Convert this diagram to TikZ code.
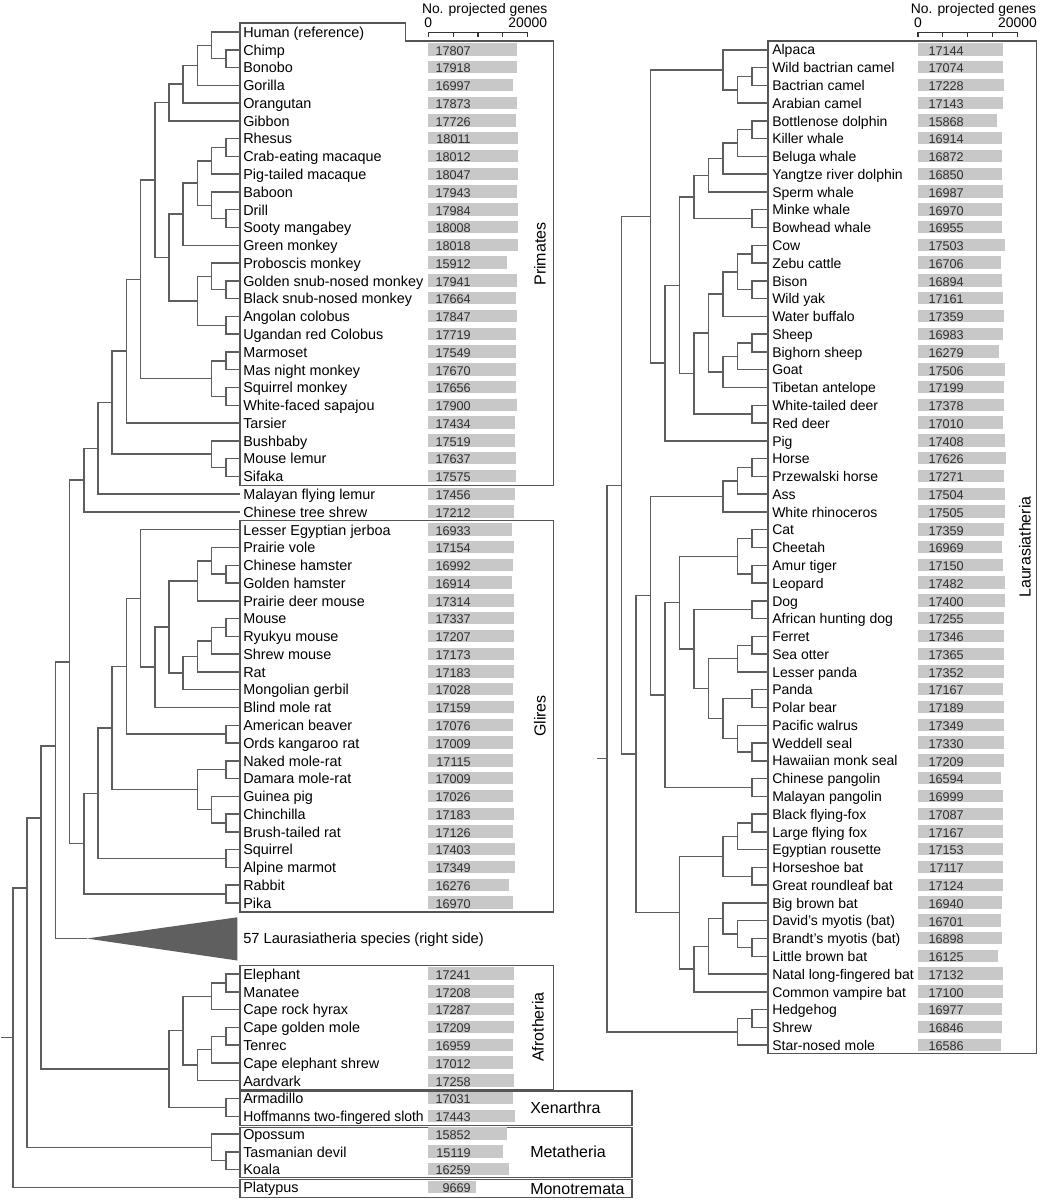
\documentclass[tikz,border=0pt]{standalone}
\usepackage{fontspec}
\setmainfont{Liberation Sans}
\usetikzlibrary{calc}
\definecolor{bargray}{HTML}{C8C8C8}
\definecolor{numgray}{HTML}{303030}
\definecolor{linegray}{HTML}{5E5E5E}
\definecolor{boxgray}{HTML}{555555}
\definecolor{trigray}{HTML}{5F5F5F}
\newcommand{\treeL}[4]{\path let \p1=(#3), \p2=(#4) in ({(240-14.2*#2)*0.75pt},{0.5*\y1+0.5*\y2}) coordinate (#1);\draw[branch] (#3) -| (#1) |- (#4);}
\newcommand{\treeLy}[5]{\coordinate (#1) at ({240-14.2*#2},#5);\draw[branch] (#3) -| (#1) |- (#4);}
\newcommand{\treeR}[4]{\path let \p1=(#3), \p2=(#4) in ({(766.7-14.5*#2)*0.75pt},{0.5*\y1+0.5*\y2}) coordinate (#1);\draw[branch] (#3) -| (#1) |- (#4);}
\newcommand{\hofname}{\scalebox{0.965}[1]{Hoffmanns two-fingered sloth}}
\begin{document}
\begin{tikzpicture}[x=0.75pt,y=-0.75pt,
 nm/.style={anchor=base west, inner sep=0pt, font=\fontsize{10.8}{12.5}\selectfont},
 nmr/.style={anchor=base west, inner sep=0pt, font=\fontsize{10.5}{12.5}\selectfont},
 num/.style={anchor=base east, inner sep=0pt, text=numgray, font=\fontsize{9.5}{11}\selectfont},
 bar/.style={fill=bargray},
 branch/.style={draw=linegray, line width=1.1pt},
 box/.style={draw=boxgray, line width=1pt},
 grp/.style={inner sep=0pt, font=\fontsize{12}{14}\selectfont},
 axl/.style={inner sep=0pt, anchor=base, font=\fontsize{10.4}{12}\selectfont},
 axisline/.style={draw=black!80, line width=0.8pt}]
\useasboundingbox (0,0) rectangle (1041,1200);
\fill[white] (0,0) rectangle (1041,1200);

% ---------- boxes ----------
\draw[box] (240,23.1) -- (405.7,23.1) -- (405.7,40.9) -- (553.3,40.9) -- (553.3,485.3) -- (240,485.3) -- cycle;
\draw[box] (240,520.8) rectangle (553.3,912);
\draw[box] (240,965.2) rectangle (553.3,1089.2);
\draw[box] (240,1091) rectangle (632,1125.3);
\draw[box] (240,1127.2) rectangle (632,1177.5);
\draw[box] (240,1179.5) rectangle (632,1197.3);
\draw[box] (768,40.9) rectangle (1036.5,1053.5);

% ---------- axes ----------
\draw[axisline] (428.3,37) -- (428.3,32.3) -- (527.7,32.3) -- (527.7,37);
\foreach \k in {1,2,3} \draw[axisline] ({428.3+24.85*\k},32.3) -- ({428.3+24.85*\k},37);
\node[axl] (axLt) at (484.7,13.3) {No. projected genes};
\node[axl] (axL0) at (428.3,27.3) {0};
\node[axl] (axL2) at (527.7,27.3) {20000};
\draw[axisline] (918,37) -- (918,32.3) -- (1017.5,32.3) -- (1017.5,37);
\foreach \k in {1,2,3} \draw[axisline] ({918+24.875*\k},32.3) -- ({918+24.875*\k},37);
\node[axl] (axRt) at (973.5,13.3) {No. projected genes};
\node[axl] (axR0) at (918,27.3) {0};
\node[axl] (axR2) at (1017.5,27.3) {20000};

% ---------- left leaves ----------
\coordinate (a0) at (240,32);
\node[nm] (na0) at (243,37.3) {Human (reference)};
\foreach \ii/\lname/\lval in {1/Chimp/17807,2/Bonobo/17918,3/Gorilla/16997,4/Orangutan/17873,5/Gibbon/17726,6/Rhesus/18011,7/Crab-eating macaque/18012,8/Pig-tailed macaque/18047,9/Baboon/17943,10/Drill/17984,11/Sooty mangabey/18008,12/Green monkey/18018,13/Proboscis monkey/15912,14/Golden snub-nosed monkey/17941,15/Black snub-nosed monkey/17664,16/Angolan colobus/17847,17/Ugandan red Colobus/17719,18/Marmoset/17549,19/Mas night monkey/17670,20/Squirrel monkey/17656,21/White-faced sapajou/17900,22/Tarsier/17434,23/Bushbaby/17519,24/Mouse lemur/17637,25/Sifaka/17575,26/Malayan flying lemur/17456,27/Chinese tree shrew/17212,28/Lesser Egyptian jerboa/16933,29/Prairie vole/17154,30/Chinese hamster/16992,31/Golden hamster/16914,32/Prairie deer mouse/17314,33/Mouse/17337,34/Ryukyu mouse/17207,35/Shrew mouse/17173,36/Rat/17183,37/Mongolian gerbil/17028,38/Blind mole rat/17159,39/American beaver/17076,40/Ords kangaroo rat/17009,41/Naked mole-rat/17115,42/Damara mole-rat/17009,43/Guinea pig/17026,44/Chinchilla/17183,45/Brush-tailed rat/17126,46/Squirrel/17403,47/Alpine marmot/17349,48/Rabbit/16276,49/Pika/16970,53/Elephant/17241,54/Manatee/17208,55/Cape rock hyrax/17287,56/Cape golden mole/17209,57/Tenrec/16959,58/Cape elephant shrew/17012,59/Aardvark/17258,60/Armadillo/17031,61/\hofname/17443,62/Opossum/15852,63/Tasmanian devil/15119,64/Koala/16259,65/Platypus/9669}{
 \pgfmathsetmacro\yy{32+17.775*\ii}
 \edef\bx{\fpeval{428.3+\lval/20000*99.4}}
 \coordinate (a\ii) at (240,\yy);
 \node[nm] (na\ii) at (243,\yy+5.3) {\lname};
 \fill[bar] (428.3,\yy-6.6) rectangle (\bx,\yy+5.8);
 \node[num] (va\ii) at (471,\yy+5.3) {\lval};
}
\coordinate (laur) at (86.7,938.5);
\fill[trigray] (laur) -- (237.3,917.3) -- (237.3,960.5) -- cycle;
\node[nm, font=\fontsize{11}{13}\selectfont] (nlaur) at (243,943.8) {57 Laurasiatheria species (right side)};

% ---------- right leaves ----------
\foreach \ii/\lname/\lval in {1/Alpaca/17144,2/Wild bactrian camel/17074,3/Bactrian camel/17228,4/Arabian camel/17143,5/Bottlenose dolphin/15868,6/Killer whale/16914,7/Beluga whale/16872,8/Yangtze river dolphin/16850,9/Sperm whale/16987,10/Minke whale/16970,11/Bowhead whale/16955,12/Cow/17503,13/Zebu cattle/16706,14/Bison/16894,15/Wild yak/17161,16/Water buffalo/17359,17/Sheep/16983,18/Bighorn sheep/16279,19/Goat/17506,20/Tibetan antelope/17199,21/White-tailed deer/17378,22/Red deer/17010,23/Pig/17408,24/Horse/17626,25/Przewalski horse/17271,26/Ass/17504,27/White rhinoceros/17505,28/Cat/17359,29/Cheetah/16969,30/Amur tiger/17150,31/Leopard/17482,32/Dog/17400,33/African hunting dog/17255,34/Ferret/17346,35/Sea otter/17365,36/Lesser panda/17352,37/Panda/17167,38/Polar bear/17189,39/Pacific walrus/17349,40/Weddell seal/17330,41/Hawaiian monk seal/17209,42/Chinese pangolin/16594,43/Malayan pangolin/16999,44/Black flying-fox/17087,45/Large flying fox/17167,46/Egyptian rousette/17153,47/Horseshoe bat/17117,48/Great roundleaf bat/17124,49/Big brown bat/16940,50/David's myotis (bat)/16701,51/Brandt's myotis (bat)/16898,52/Little brown bat/16125,53/Natal long-fingered bat/17132,54/Common vampire bat/17100,55/Hedgehog/16977,56/Shrew/16846,57/Star-nosed mole/16586}{
 \pgfmathsetmacro\yy{32+17.775*\ii}
 \edef\bx{\fpeval{918+\lval/20000*99.5}}
 \coordinate (b\ii) at (768,\yy);
 \node[nmr] (nb\ii) at (772,\yy+5.2) {\lname};
 \fill[bar] (918,\yy-6.6) rectangle (\bx,\yy+5.8);
 \node[num] (vb\ii) at (964,\yy+5.3) {\lval};
}

% ---------- left tree ----------
\treeL{cb}{1}{a1}{a2}
\treeL{hcb}{2}{a0}{cb}
\treeL{hg}{3}{hcb}{a3}
\treeL{hgo}{4}{hg}{a4}
\treeL{hom}{5}{hgo}{a5}
\treeL{rc}{1}{a6}{a7}
\treeL{rcp}{2}{rc}{a8}
\treeL{ds}{1}{a10}{a11}
\treeL{bds}{2}{a9}{ds}
\treeL{pap}{3}{rcp}{bds}
\treeL{cerc}{4}{pap}{a12}
\treeL{gb}{1}{a14}{a15}
\treeL{pgb}{2}{a13}{gb}
\treeL{au}{1}{a16}{a17}
\treeL{colo}{3}{pgb}{au}
\treeL{owm}{5}{cerc}{colo}
\treeL{cat}{6}{hom}{owm}
\treeL{mm}{1}{a18}{a19}
\treeL{sw}{1}{a20}{a21}
\treeL{nwm}{2}{mm}{sw}
\treeL{sim}{7}{cat}{nwm}
\treeL{hap}{8}{sim}{a22}
\treeL{ms}{1}{a24}{a25}
\treeL{str}{2}{a23}{ms}
\treeL{pri}{9}{hap}{str}
\treeL{pml}{10}{pri}{a26}
\treeL{eua}{11}{pml}{a27}
\treeL{chgh}{1}{a30}{a31}
\treeL{pvch}{2}{a29}{chgh}
\treeL{cric}{3}{pvch}{a32}
\treeL{mr}{1}{a33}{a34}
\treeL{mrs}{2}{mr}{a35}
\treeL{mrsr}{3}{mrs}{a36}
\treeL{mur}{4}{mrsr}{a37}
\treeL{muro}{5}{cric}{mur}
\treeL{mbm}{6}{muro}{a38}
\treeL{myo}{7}{a28}{mbm}
\treeL{bo}{1}{a39}{a40}
\treeL{myc}{8}{myo}{bo}
\treeL{nd}{1}{a41}{a42}
\treeL{cbt}{1}{a44}{a45}
\treeL{gcb}{2}{a43}{cbt}
\treeL{hys}{3}{nd}{gcb}
\treeL{rodi}{9}{myc}{hys}
\treeL{sa}{1}{a46}{a47}
\treeL{rod}{10}{rodi}{sa}
\treeL{rp}{1}{a48}{a49}
\treeL{gli}{11}{rod}{rp}
\treeL{euar}{12}{eua}{gli}
\treeLy{bor}{13}{euar}{laur}{746}
\treeL{em}{1}{a53}{a54}
\treeL{pae}{2}{em}{a55}
\treeL{gt}{1}{a56}{a57}
\treeL{gts}{2}{gt}{a58}
\treeL{afi}{3}{gts}{a59}
\treeL{afr}{4}{pae}{afi}
\treeL{xen}{1}{a60}{a61}
\treeL{atl}{5}{afr}{xen}
\treeLy{eut}{14}{bor}{atl}{818}
\treeL{ot}{1}{a63}{a64}
\treeL{met}{2}{a62}{ot}
\treeLy{the}{15}{eut}{met}{888}
\treeL{mam}{16}{the}{a65}
\coordinate (rootL) at ($(mam)+(-11.5,0)$);
\draw[branch] (mam) -- (rootL);

% ---------- right tree ----------
\treeR{wbb}{1}{b2}{b3}
\treeR{wbba}{2}{wbb}{b4}
\treeR{cam}{3}{b1}{wbba}
\treeR{bk}{1}{b5}{b6}
\treeR{bkb}{2}{bk}{b7}
\treeR{bkby}{3}{bkb}{b8}
\treeR{odo}{4}{bkby}{b9}
\treeR{mys}{1}{b10}{b11}
\treeR{whi}{5}{odo}{mys}
\treeR{cz}{1}{b12}{b13}
\treeR{bw}{1}{b14}{b15}
\treeR{czbw}{2}{cz}{bw}
\treeR{bov}{3}{czbw}{b16}
\treeR{sb}{1}{b17}{b18}
\treeR{sbg}{2}{sb}{b19}
\treeR{cap}{3}{sbg}{b20}
\treeR{bovi}{4}{bov}{cap}
\treeR{cer}{1}{b21}{b22}
\treeR{rum}{5}{bovi}{cer}
\treeR{cetr}{6}{whi}{rum}
\treeR{artf}{7}{cetr}{b23}
\treeR{cetart}{8}{cam}{artf}
\treeR{hp}{1}{b24}{b25}
\treeR{hpa}{2}{hp}{b26}
\treeR{per}{3}{hpa}{b27}
\treeR{cc}{1}{b28}{b29}
\treeR{al}{1}{b30}{b31}
\treeR{fel}{2}{cc}{al}
\treeR{can}{1}{b32}{b33}
\treeR{fs}{1}{b34}{b35}
\treeR{must}{2}{fs}{b36}
\treeR{pp}{1}{b37}{b38}
\treeR{wh}{1}{b40}{b41}
\treeR{pin}{2}{b39}{wh}
\treeR{up}{3}{pp}{pin}
\treeR{mup}{4}{must}{up}
\treeR{canif}{5}{can}{mup}
\treeR{carn}{6}{fel}{canif}
\treeR{pan}{1}{b42}{b43}
\treeR{ferae}{7}{carn}{pan}
\treeR{zoo}{8}{per}{ferae}
\treeR{bl}{1}{b44}{b45}
\treeR{pter}{2}{bl}{b46}
\treeR{rhi}{1}{b47}{b48}
\treeR{yin}{3}{pter}{rhi}
\treeR{brl}{1}{b51}{b52}
\treeR{dbl}{2}{b50}{brl}
\treeR{bbd}{3}{b49}{dbl}
\treeR{ves}{4}{bbd}{b53}
\treeR{yan}{5}{ves}{b54}
\treeR{chi}{6}{yin}{yan}
\treeR{sco}{9}{zoo}{chi}
\treeR{scr}{10}{cetart}{sco}
\treeR{hs}{1}{b55}{b56}
\treeR{eul}{2}{hs}{b57}
\treeR{lau}{11}{scr}{eul}
\coordinate (rootR) at ($(lau)+(-10,0)$);
\draw[branch] (lau) -- (rootR);

% ---------- group labels ----------
\node[grp, rotate=90] (gPri) at (540,254) {Primates};
\node[grp, rotate=90] (gGli) at (540,716) {Glires};
\node[grp, rotate=90] (gAfr) at (538,1027) {Afrotheria};
\node[grp, anchor=base west] (gXen) at (530,1113.7) {Xenarthra};
\node[grp, anchor=base west] (gMet) at (530,1157.7) {Metatheria};
\node[grp, anchor=base west] (gMon) at (530,1194.6) {Monotremata};
\node[grp, rotate=90] (gLau) at (1025,547) {Laurasiatheria};
\end{tikzpicture}
\end{document}
